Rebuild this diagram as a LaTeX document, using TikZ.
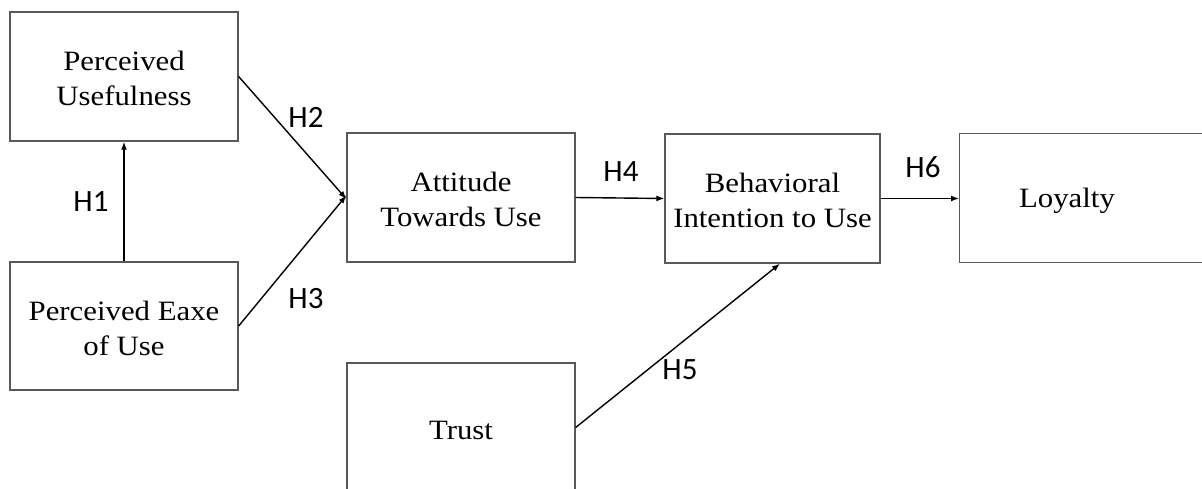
\documentclass[tikz,border=0pt]{standalone}
\usepackage{fontspec}
\setmainfont{Liberation Serif}
\newfontfamily\labfont{Carlito}
\usetikzlibrary{arrows.meta,calc}
\newcommand{\bxt}[1]{\raisebox{0pt}[\dimexpr\height+10pt\relax]{\scalebox{1.1}[1]{\begin{tabular}{@{}c@{}}#1\end{tabular}}}}
\tikzset{
  box/.style={draw=black!65, line width=1.3pt, minimum width=228pt, minimum height=129pt, inner sep=0pt, font=\fontsize{28}{35}\selectfont},
  btext/.style={inner sep=0pt, font=\fontsize{28}{35}\selectfont},
  conn/.style={draw=black, line width=1.4pt, -{Latex[length=8pt,width=6pt]}},
  hlab/.style={inner sep=0pt, font=\labfont\fontsize{31}{31}\selectfont}
}
\begin{document}
\begin{tikzpicture}[x=1pt,y=-1pt]
\useasboundingbox (0,0) rectangle (1202,489);
\clip (0,0) rectangle (1202,489);
\fill[white] (0,0) rectangle (1202,489);
\node[box] (pu) at (124,76.5) {\bxt{Perceived\\Usefulness}};
\node[box, minimum height=128pt] (peu) at (124,326) {\bxt{Perceived Eaxe\\of Use}};
\node[box] (atu) at (461,197.5) {\bxt{Attitude\\Towards Use}};
\node[box, minimum width=215pt] (bi) at (772.5,198.5) {\bxt{Behavioral\\Intention to Use}};
\node[box, minimum width=300pt, anchor=north west] (loy) at (959,133) {};
\node[btext] (loyt) at (1067,196) {\bxt{Loyalty}};
\node[box] (tr) at (461,427.5) {\bxt{Trust}};
\draw[conn] (peu.north) -- (pu.south);
\draw[conn] (pu.east) -- ([yshift=-1.5pt]atu.west);
\draw[conn] (peu.east) -- ([yshift=2pt]atu.west);
\draw[conn] (atu.east) -- (bi.west);
\draw[conn] (bi.east) -- (bi.east -| loy.west);
\draw[conn] (tr.east) -- ([xshift=7.5pt]bi.south);
\node[hlab] (h1) at (91,202) {H1};
\node[hlab] (h2) at (306,117) {H2};
\node[hlab] (h3) at (306,299) {H3};
\node[hlab] (h4) at (621,172) {H4};
\node[hlab] (h5) at (680,370) {H5};
\node[hlab] (h6) at (923,167) {H6};
\end{tikzpicture}
\end{document}
